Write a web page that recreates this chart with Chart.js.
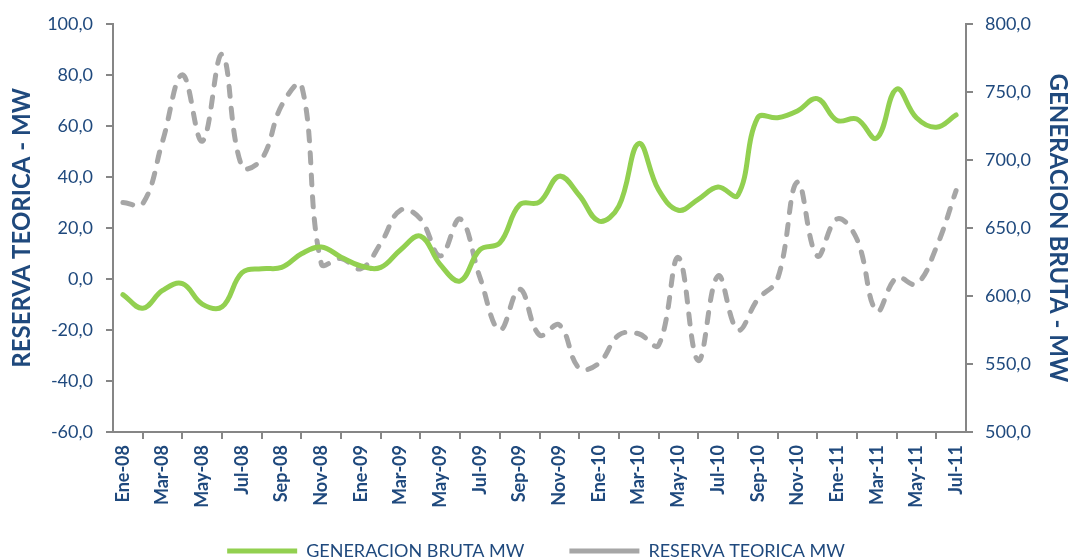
<!DOCTYPE html>
<html>
<head>
<meta charset="utf-8">
<script src="https://cdn.jsdelivr.net/npm/chart.js@4.4.1/dist/chart.umd.min.js"></script>
<style>
  body { margin: 0; background: #fff; }
</style>
</head>
<body>
<canvas id="mycanvas" width="1072" height="560"></canvas>
<script>
var meses = ["Ene-08","Feb-08","Mar-08","Abr-08","May-08","Jun-08","Jul-08","Ago-08","Sep-08","Oct-08","Nov-08","Dic-08",
	"Ene-09","Feb-09","Mar-09","Abr-09","May-09","Jun-09","Jul-09","Ago-09","Sep-09","Oct-09","Nov-09","Dic-09",
	"Ene-10","Feb-10","Mar-10","Abr-10","May-10","Jun-10","Jul-10","Ago-10","Sep-10","Oct-10","Nov-10","Dic-10",
	"Ene-11","Feb-11","Mar-11","Abr-11","May-11","Jun-11","Jul-11"];

// GENERACION BRUTA MW (eje derecho)
var generacion = [601, 591, 604, 609, 594, 592, 617, 620, 621, 631, 636, 628.5,
	622, 621, 634, 644, 623, 611, 634, 639, 667, 669, 688, 674,
	655, 666, 712, 678, 663, 671, 680, 674, 731, 731, 736, 745,
	729, 730, 716, 752, 731, 724, 733];

// RESERVA TEORICA MW (eje izquierdo)
var reserva = [30, 29.5, 54, 80, 54, 88, 44, 47, 68, 76, 6, 8,
	4, 14, 27, 23.5, 9, 23.5, 0.5, -20, -4, -22, -18, -35,
	-33, -22, -21.5, -26, 8.4, -32, 1.2, -20, -8, 0, 38, 9,
	23.5, 15.6, -12.6, 0.5, -2, 12.3, 34.6];

var azul = '#1F497D';
var gris = '#868686';

function coma(v) {
	return v.toFixed(1).replace('.', ',');
}

// la leyenda ocupa poco alto y se dibuja pegada abajo, como en el original
var moverLeyenda = {
	id: 'moverLeyenda',
	beforeLayout: function(chart) {
		var leg = chart.legend;
		if (leg && !leg._fitOrig) {
			leg._fitOrig = leg.fit;
			leg.fit = function() {
				this._fitOrig();
				this.height = 43;
			};
		}
	},
	afterLayout: function(chart) {
		chart.legend.top = 497;
		chart.legend.bottom = 560;
	}
};

var ctx = document.getElementById('mycanvas');

var chart = new Chart(ctx, {
	type: 'line',
	data: {
		labels: meses,
		datasets: [
			{
				label: 'GENERACION BRUTA MW',
				data: generacion,
				yAxisID: 'y1',
				borderColor: '#92D050',
				backgroundColor: '#92D050',
				borderWidth: 5,
				borderCapStyle: 'round',
				pointRadius: 0,
				tension: 0.4
			},
			{
				label: 'RESERVA TEORICA MW',
				data: reserva,
				yAxisID: 'y',
				borderColor: '#A6A6A6',
				backgroundColor: '#A6A6A6',
				borderWidth: 5,
				borderDash: [10, 12],
				borderCapStyle: 'round',
				pointRadius: 0,
				tension: 0.4
			}
		]
	},
	plugins: [moverLeyenda],
	options: {
		responsive: false,
		animation: false,
		layout: { padding: { left: 0, right: 0, top: 22, bottom: 0 } },
		plugins: {
			tooltip: { enabled: false },
			legend: {
				position: 'bottom',
				labels: {
					usePointStyle: true,
					pointStyle: 'line',
					pointStyleWidth: 70,
					padding: 45,
					color: azul,
					font: { family: 'Lato', size: 18 }
				}
			}
		},
		scales: {
			x: {
				offset: true,
				grid: { display: true, offset: true, drawOnChartArea: false, drawTicks: true, tickLength: 7, color: gris, lineWidth: 2 },
				border: { color: gris, width: 2 },
				ticks: {
					autoSkip: false,
					maxRotation: 90,
					minRotation: 90,
					padding: 6,
					color: azul,
					font: { family: 'Lato', size: 18, weight: 'bold' },
					callback: function(val, i) {
						return i % 2 === 0 ? meses[i] : null;
					}
				},
				afterFit: function(scale) { scale.height = 85; }
			},
			y: {
				position: 'left',
				min: -60,
				max: 100,
				grid: { drawOnChartArea: false, tickLength: 7, color: gris, lineWidth: 2 },
				border: { color: gris, width: 2 },
				ticks: {
					stepSize: 20,
					padding: 13,
					color: azul,
					font: { family: 'Lato', size: 18 },
					callback: function(v) { return coma(v); }
				},
				title: {
					display: true,
					text: 'RESERVA TEORICA - MW',
					color: azul,
					font: { family: 'Lato', size: 24, weight: 'bold' },
					padding: { top: 8, bottom: 0 }
				},
				afterFit: function(scale) { scale.width = 113; }
			},
			y1: {
				position: 'right',
				min: 500,
				max: 800,
				grid: { drawOnChartArea: false, tickLength: 7, color: gris, lineWidth: 2 },
				border: { color: gris, width: 2 },
				ticks: {
					stepSize: 50,
					padding: 12,
					color: azul,
					font: { family: 'Lato', size: 18 },
					callback: function(v) { return coma(v); }
				},
				title: {
					display: true,
					text: 'GENERACION BRUTA - MW',
					color: azul,
					font: { family: 'Lato', size: 24, weight: 'bold' },
					padding: { top: 0, bottom: 0 }
				},
				afterFit: function(scale) { scale.width = 106; }
			}
		}
	}
});
</script>
</body>
</html>
